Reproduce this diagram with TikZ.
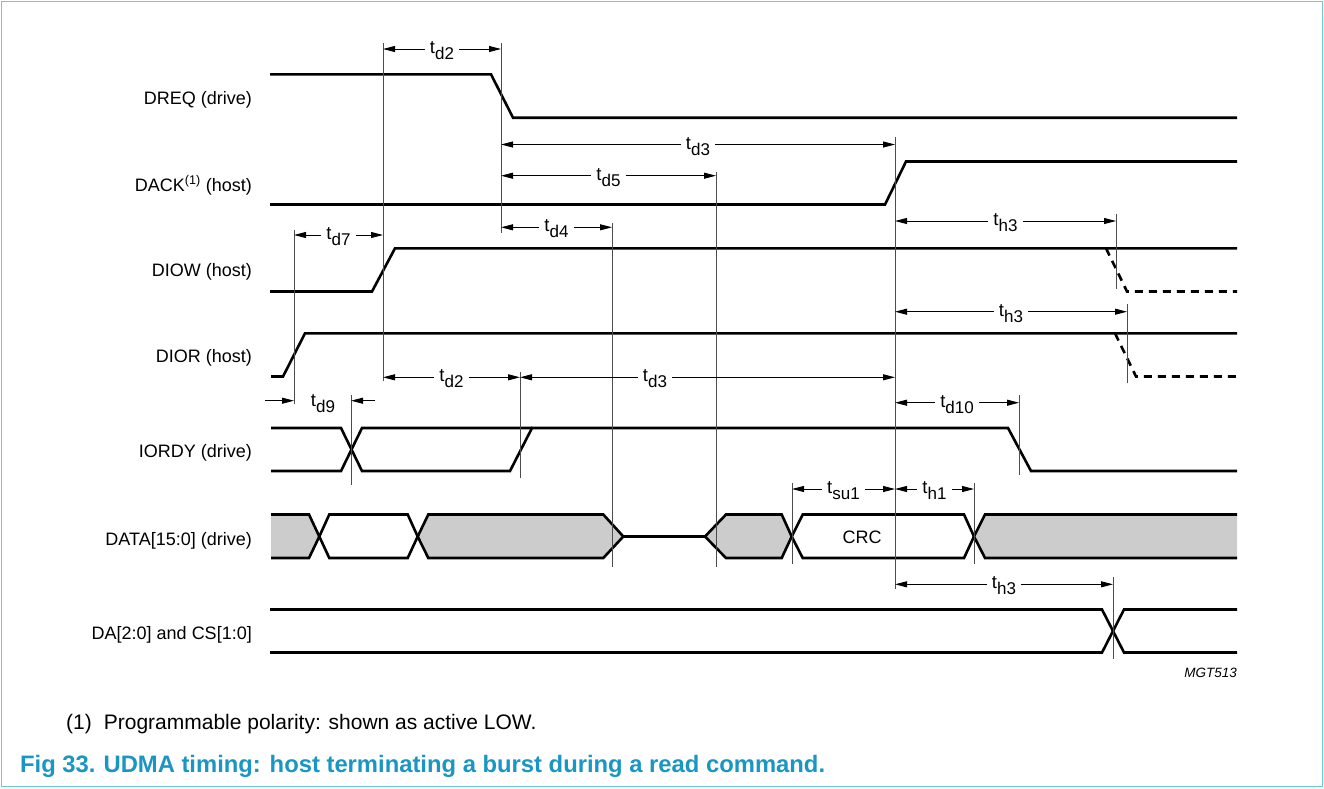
\documentclass[tikz,border=0pt]{standalone}
\usepackage{fontspec}
\setmainfont{Liberation Sans}
\usetikzlibrary{arrows.meta}

\newcommand{\tsub}[1]{t\raisebox{-6pt}{\fontsize{17}{17}\selectfont #1}}

\begin{document}
\begin{tikzpicture}[x=1pt,y=-1pt]
	\definecolor{framec}{RGB}{110,200,222}
	\definecolor{capc}{RGB}{25,150,195}
	\definecolor{busgray}{RGB}{204,204,204}
	\tikzset{
		sig/.style={
			line width=2.6pt
		},
		sigdash/.style={
			sig,
			dash pattern=on 8pt off 6pt
		},
		refl/.style={
			draw=black!70,
			line width=0.9pt
		},
		dim/.style={
			line width=0.9pt,
			{Triangle[length=12pt,width=6pt]}-{Triangle[length=12pt,width=6pt]}
		},
		dimto/.style={
			line width=0.9pt,
			-{Triangle[length=12pt,width=6pt]}
		},
		tl/.style={
			fill=white,
			inner xsep=5pt,
			inner ysep=0pt,
			anchor=base,
			yshift=-4.5pt,
			font=\fontsize{18.5}{18.5}\selectfont
		},
		lbl/.style={
			anchor=base east,
			inner sep=0pt,
			font=\fontsize{18}{20}\selectfont
		}
	}
	\useasboundingbox (0,0) rectangle (1324,788);
	\draw[framec,line width=1.6pt] (1.5,1.5) rectangle (1322.5,786.5);
	
	% ======= Marker times =======
	\coordinate (tF) at (294,0);
	\coordinate (tG) at (351,0);
	\coordinate (tA) at (383,0);
	\coordinate (tB) at (501,0);
	\coordinate (tH) at (520,0);
	\coordinate (tC) at (612,0);
	\coordinate (tD) at (716,0);
	\coordinate (tI) at (792,0);
	\coordinate (tE) at (895,0);
	\coordinate (tJ) at (974,0);
	\coordinate (tM) at (1019,0);
	\coordinate (tN) at (1113,0);
	\coordinate (tK) at (1116,0);
	\coordinate (tL) at (1127,0);
	
	% ======= Signal names =======
	\node[lbl] (nDREQ) at (252,104.3) {DREQ (drive)};
	\node[lbl] (nDACK) at (252,191) {DACK\textsuperscript{(1)} (host)};
	\node[lbl] (nDIOW) at (252,276.7) {DIOW (host)};
	\node[lbl] (nDIOR) at (252,362.7) {DIOR (host)};
	\node[lbl] (nIORDY) at (252,457) {IORDY (drive)};
	\node[lbl] (nDATA) at (252,545) {DATA[15:0] (drive)};
	\node[lbl] (nDA) at (252,639.3) {DA[2:0] and CS[1:0]};
	
	% ======= Waveforms =======
	\draw[sig] (270,74.3) -- (491,74.3) -- (513,117.7) -- (1237,117.7);
	\draw[sig] (270,204.5) -- (885,204.5) -- (906,161.5) -- (1237,161.5);
	
	\draw[sig] (270,291.5) -- (372,291.5) -- (395,248.3) -- (1237,248.3);
	\draw[sigdash] (1106,248.3) -- (1127,291.5) -- (1237,291.5);
	
	\draw[sig] (271,376.5) -- (283,376.5) -- (305,333.3) -- (1237,333.3);
	\draw[sigdash] (1115,333.3) -- (1136,376.5) -- (1237,376.5);
	
	\draw[sig] (271,428) -- (341,428) -- (362,471) -- (510,471) -- (532,428) -- (1008,428) -- (1031,471) -- (1237,471);
	\draw[sig] (271,471) -- (341,471) -- (362,428) -- (532,428);
	
	% DATA bus
	\fill[busgray] (271,514.5) -- (309,514.5) -- (319.3,536.5) -- (309,558) -- (271,558) -- cycle;
	\draw[sig] (271,514.5) -- (309,514.5) -- (319.3,536.5) -- (309,558) -- (271,558);
	\draw[sig] (319.3,536.5) -- (329.3,514.5) -- (407.7,514.5) -- (417.7,536.5) -- (407.7,558) -- (329.3,558) -- cycle;
	\filldraw[sig,fill=busgray] (417.7,536.5) -- (428.3,514.5) -- (603.3,514.5) -- (623.3,536.5) -- (603.3,558) -- (428.3,558) -- cycle;
	\draw[sig] (623.3,536.5) -- (705,536.5);
	\filldraw[sig,fill=busgray] (705,536.5) -- (726,514.5) -- (781.7,514.5) -- (791.7,536.5) -- (781.7,558) -- (726,558) -- cycle;
	\draw[sig] (791.7,536.5) -- (802.7,514.5) -- (964,514.5) -- (974,536.5) -- (964,558) -- (802.7,558) -- cycle;
	\node[font=\fontsize{18}{18}\selectfont] (crc) at (862,537) {CRC};
	\fill[busgray] (974,536.5) -- (985,514.5) -- (1237,514.5) -- (1237,558) -- (985,558) -- cycle;
	\draw[sig] (1237,514.5) -- (985,514.5) -- (974,536.5) -- (985,558) -- (1237,558);
	
	% DA / CS
	\draw[sig] (270,609.5) -- (1102,609.5) -- (1124,652.5) -- (1237,652.5);
	\draw[sig] (270,652.5) -- (1102,652.5) -- (1124,609.5) -- (1237,609.5);
	
	% ======= Reference lines =======
	\draw[refl] (tF |- 0,230) -- (tF |- 0,404);
	\draw[refl] (tG |- 0,395) -- (tG |- 0,485);
	\draw[refl] (tA |- 0,43) -- (tA |- 0,381);
	\draw[refl] (tB |- 0,43) -- (tB |- 0,233);
	\draw[refl] (tH |- 0,372) -- (tH |- 0,478);
	\draw[refl] (tC |- 0,223) -- (tC |- 0,567);
	\draw[refl] (tD |- 0,172) -- (tD |- 0,567);
	\draw[refl] (tI |- 0,483) -- (tI |- 0,564);
	\draw[refl] (tE |- 0,137) -- (tE |- 0,589);
	\draw[refl] (tJ |- 0,483) -- (tJ |- 0,564);
	\draw[refl] (tM |- 0,395) -- (tM |- 0,475);
	\draw[refl] (tN |- 0,577) -- (tN |- 0,659);
	\draw[refl] (tK |- 0,214) -- (tK |- 0,289);
	\draw[refl] (tL |- 0,304) -- (tL |- 0,383);
	
	% ======= Timing arrows =======
	\draw[dim] (tA |- 0,49) -- node[tl] (td2a) {\tsub{d2}} (tB |- 0,49);
	\draw[dim] (tB |- 0,144.5) -- node[tl] (td3a) {\tsub{d3}} (tE |- 0,144.5);
	\draw[dim] (tB |- 0,175.7) -- node[tl] (td5) {\tsub{d5}} (tD |- 0,175.7);
	\draw[dim] (tB |- 0,227.3) -- node[tl] (td4) {\tsub{d4}} (tC |- 0,227.3);
	\draw[dim] (tF |- 0,235) -- node[tl] (td7) {\tsub{d7}} (tA |- 0,235);
	\draw[dim] (tE |- 0,221) -- node[tl] (th3a) {\tsub{h3}} (tK |- 0,221);
	\draw[dim] (tE |- 0,311.7) -- node[tl] (th3b) {\tsub{h3}} (tL |- 0,311.7);
	\draw[dim] (tA |- 0,377.3) -- node[tl] (td2b) {\tsub{d2}} (tH |- 0,377.3);
	\draw[dim] (tH |- 0,377.3) -- node[tl,pos=0.36] (td3b) {\tsub{d3}} (tE |- 0,377.3);
	\draw[dim] (tE |- 0,402.7) -- node[tl] (td10) {\tsub{d10}} (tM |- 0,402.7);
	\draw[dim] (tI |- 0,489) -- node[tl] (tsu1) {\tsub{su1}} (tE |- 0,489);
	\draw[dim] (tE |- 0,489) -- node[tl] (th1) {\tsub{h1}} (tJ |- 0,489);
	\draw[dim] (tE |- 0,584.3) -- node[tl] (th3c) {\tsub{h3}} (tN |- 0,584.3);
	
	\coordinate (d9l) at (265,400.7);
	\coordinate (d9r) at (375,400.7);
	\draw[dimto] (d9l) -- (tF |- d9l);
	\draw[dimto] (d9r) -- (tG |- d9r);
	\node[tl,fill=none,yshift=-1pt] (td9) at (323,400.7) {\tsub{d9}};
	
	% ======= Notes =======
	\node[anchor=base east,inner sep=0pt,font=\itshape\fontsize{13.5}{14}\selectfont] (mgt) at (1237,677) {MGT513};
	\node[anchor=base west,inner sep=0pt,font=\fontsize{21}{22}\selectfont] (note) at (66,729.5) {(1)\hspace{12pt}Programmable polarity: shown as active LOW.};
	\node[anchor=base west,inner sep=0pt,text=capc,font=\bfseries\fontsize{23.8}{24}\selectfont] (cap) at (20,772) {Fig 33.\hspace{8pt}UDMA timing: host terminating a burst during a read command.};
\end{tikzpicture}
\end{document}
